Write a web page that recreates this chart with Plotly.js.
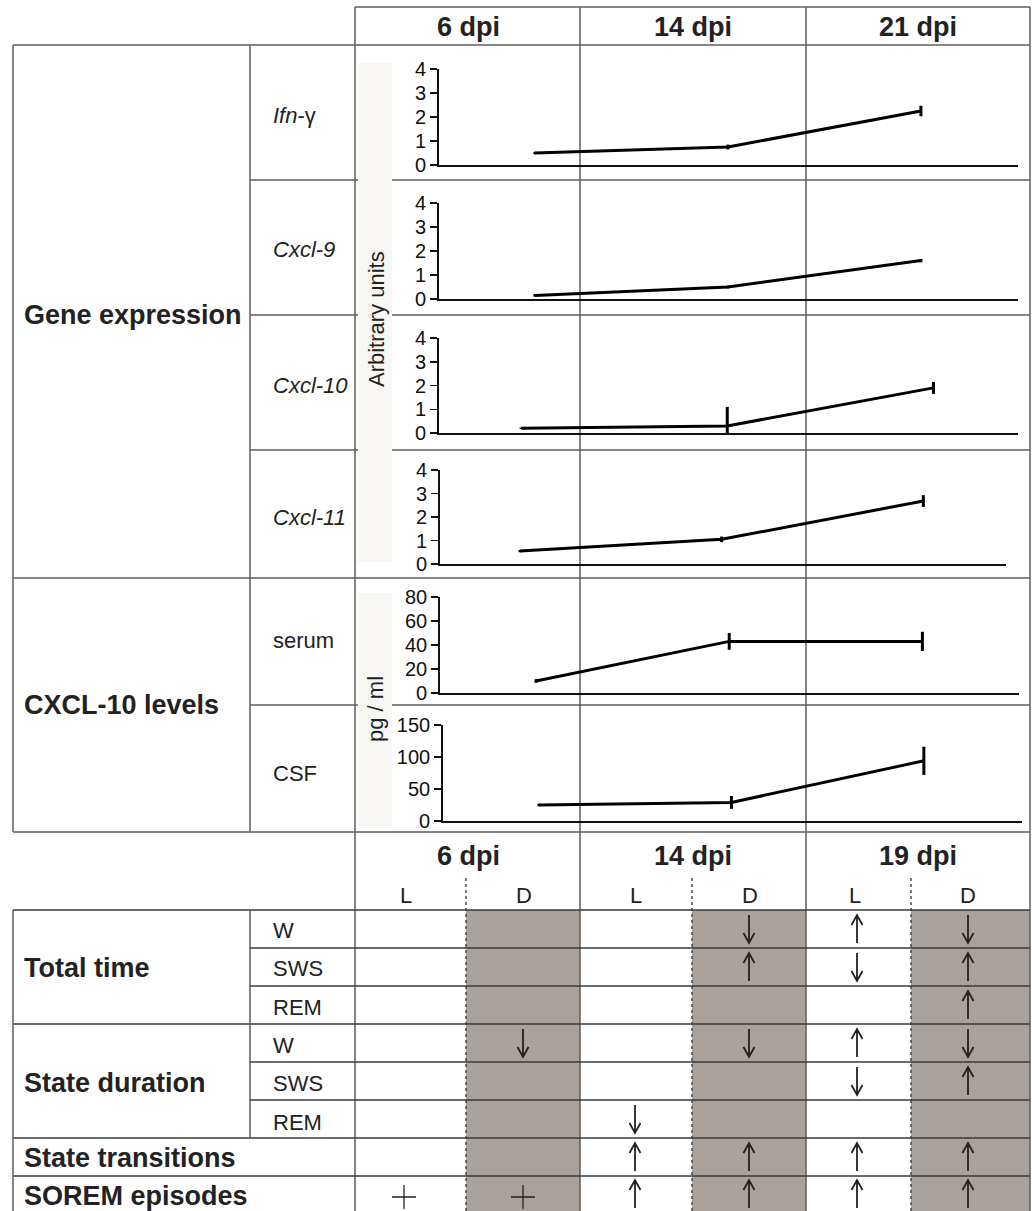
<!DOCTYPE html>
<html>
<head>
<meta charset="utf-8">
<script src="https://cdn.plot.ly/plotly-3.0.1.min.js"></script>
<style>html,body{margin:0;padding:0;background:#fff;}#chart{width:1032px;height:1211px;}</style>
</head>
<body>
<div id="chart"></div>
<script>
// ---------- DATA ----------
const timepoints = ['6 dpi', '14 dpi', '21 dpi'];
const xIdx = [0, 1, 2];

const ifnG = [0.5, 0.75, 2.25];
const ifnGErr = [0.05, 0.1, 0.22];
const cxcl9 = [0.15, 0.5, 1.6];
const cxcl9Err = [0.05, 0.06, 0.07];
const cxcl10 = [0.2, 0.3, 1.9];
const cxcl10ErrPlus = [0.03, 0.8, 0.25];
const cxcl10ErrMinus = [0.03, 0.3, 0.25];
const cxcl11 = [0.55, 1.05, 2.68];
const cxcl11Err = [0.05, 0.12, 0.25];
const serum = [10, 43, 43];
const serumErr = [1.5, 7, 8];
const csf = [25, 29, 94];
const csfErr = [2, 10, 22];

const geneLabels = ['<i>Ifn</i>-γ', '<i>Cxcl-9</i>', '<i>Cxcl-10</i>', '<i>Cxcl-11</i>', 'serum', 'CSF'];
const sleepTimepoints = ['6 dpi', '14 dpi', '19 dpi'];
const phaseLabels = ['L', 'D', 'L', 'D', 'L', 'D'];
const groupLabels = ['Total time', 'State duration', 'State transitions', 'SOREM episodes'];
const subLabels = ['W', 'SWS', 'REM', 'W', 'SWS', 'REM'];

// sleep table marks: rows = TT W, TT SWS, TT REM, SD W, SD SWS, SD REM, transitions, SOREM
const mark6L  = ['', '', '', '', '', '', '', '+'];
const mark6D  = ['', '', '', 'down', '', '', '', '+'];
const mark14L = ['', '', '', '', '', 'down', 'up', 'up'];
const mark14D = ['down', 'up', '', 'down', '', '', 'up', 'up'];
const mark19L = ['up', 'down', '', 'up', 'down', '', 'up', 'up'];
const mark19D = ['down', 'up', 'up', 'down', 'up', '', 'up', 'up'];

// ---------- LAYOUT HELPERS ----------
const W = 1032, H = 1211;
const X = p => p / W;
const Y = p => 1 - p / H;
const FONT = 'Liberation Sans, Arial, sans-serif';
const GRID = '#5e5e5e';
const shapes = [];
const annotations = [];

function hline(x0, x1, y, color, width, dash, layer) {
  shapes.push({type: 'line', xref: 'paper', yref: 'paper', x0: X(x0), x1: X(x1), y0: Y(y), y1: Y(y),
    line: {color: color || GRID, width: width || 1.5, dash: dash || 'solid'}, layer: layer || 'below'});
}
function vline(x, y0, y1, color, width, dash, layer) {
  shapes.push({type: 'line', xref: 'paper', yref: 'paper', x0: X(x), x1: X(x), y0: Y(y0), y1: Y(y1),
    line: {color: color || GRID, width: width || 1.5, dash: dash || 'solid'}, layer: layer || 'below'});
}
function rect(x0, y0, x1, y1, fill, layer) {
  shapes.push({type: 'rect', xref: 'paper', yref: 'paper', x0: X(x0), x1: X(x1), y0: Y(y0), y1: Y(y1),
    fillcolor: fill, line: {width: 0}, layer: layer || 'below'});
}
function text(t, x, y, size, opts) {
  opts = opts || {};
  annotations.push(Object.assign({text: t, xref: 'paper', yref: 'paper', x: X(x), y: Y(y), showarrow: false,
    xanchor: opts.xanchor || 'center', yanchor: 'middle',
    font: {family: FONT, size: size, color: opts.color || '#222', weight: opts.bold ? 'bold' : 'normal'}},
    opts.textangle ? {textangle: opts.textangle} : {}));
}

// ---------- TABLE: gray fills for dark phases ----------
const darkCols = [[466, 580], [692, 806], [911, 1030]];
darkCols.forEach(c => rect(c[0], 910, c[1], 1214, '#a8a19c'));

// ---------- TOP TABLE LINES ----------
hline(355, 1030, 7);
hline(13, 1030, 45);
[180, 315, 450, 705].forEach(y => hline(250, 1030, y));
hline(13, 1030, 578);
hline(13, 1030, 832);
vline(13, 45, 832);
vline(250, 45, 832);
vline(355, 7, 1214);
vline(580, 7, 1214);
vline(806, 7, 1214);
vline(1030, 7, 1214);

// ---------- BOTTOM TABLE LINES ----------
[910, 1024, 1138, 1176].forEach(y => hline(13, 1030, y, '#3a3a3a'));
[948, 986, 1062, 1100].forEach(y => hline(250, 1030, y, '#3a3a3a'));
vline(13, 910, 1214);
vline(250, 910, 1138);
[466, 692, 911].forEach(x => vline(x, 878, 1214, '#333', 1.3, 'dot'));

// light bands behind axis titles (cover the row lines)
rect(358, 63, 392, 562, '#f7f6f3');
rect(358, 593, 392, 826, '#f7f6f3');

// ---------- TEXT ----------
const headCx = [468, 693, 918];
timepoints.forEach((t, i) => text(t, headCx[i], 27, 27, {bold: true}));
sleepTimepoints.forEach((t, i) => text(t, headCx[i], 856, 27, {bold: true}));
const phaseCx = [406, 524, 636, 750, 855, 968];
phaseLabels.forEach((t, i) => text(t, phaseCx[i], 895, 22));

text('Gene expression', 22, 315, 27, {bold: true, xanchor: 'left'});
text('CXCL-10 levels', 22, 705, 27, {bold: true, xanchor: 'left'});
const geneY = [115, 250, 385, 517, 640, 773];
geneLabels.forEach((t, i) => text(t, 271, geneY[i], 22, {xanchor: 'left'}));
text('Arbitrary units', 376, 319, 22, {textangle: -90});
text('pg / ml', 375, 709, 22, {textangle: -90});

const groupY = [968, 1083, 1158, 1196];
groupLabels.forEach((t, i) => text(t, 22, groupY[i], 27, {bold: true, xanchor: 'left'}));
const subY = [930, 968, 1007, 1045, 1083, 1122];
subLabels.forEach((t, i) => text(t, 271, subY[i], 22, {xanchor: 'left'}));

// ---------- ARROWS / MARKS ----------
const rowBounds = [910, 948, 986, 1024, 1062, 1100, 1138, 1176, 1212];
const markCols = [mark6L, mark6D, mark14L, mark14D, mark19L, mark19D];
const markCx = [404, 523, 635, 749, 857, 968];
function P(x, y) { return X(x) + ',' + Y(y); }
markCols.forEach((col, ci) => {
  col.forEach((m, ri) => {
    if (!m) return;
    const cx = markCx[ci];
    const cy = (rowBounds[ri] + rowBounds[ri + 1]) / 2;
    let path;
    if (m === 'up') {
      const tip = cy - 14, tail = cy + 14;
      path = 'M' + P(cx, tail) + ' L' + P(cx, tip) + ' M' + P(cx - 5.5, tip + 10) + ' L' + P(cx, tip) + ' L' + P(cx + 5.5, tip + 10);
    } else if (m === 'down') {
      const tip = cy + 14, tail = cy - 14;
      path = 'M' + P(cx, tail) + ' L' + P(cx, tip) + ' M' + P(cx - 5.5, tip - 10) + ' L' + P(cx, tip) + ' L' + P(cx + 5.5, tip - 10);
    } else {
      path = 'M' + P(cx - 12, cy + 3) + ' L' + P(cx + 12, cy + 3) + ' M' + P(cx, cy - 9) + ' L' + P(cx, cy + 15);
    }
    shapes.push({type: 'path', xref: 'paper', yref: 'paper', path: path,
      line: {color: '#222', width: m === '+' ? 1.3 : 1.8}, layer: 'above'});
  });
});

// ---------- PLOT PANELS ----------
// [values, errPlus, errMinus, yTop(px), yBottom(px), xStart(px), xEnd(px), range, dtick, xrange]
const panels = [
  [ifnG, ifnGErr, ifnGErr, 69, 165, 439, 1018, [0, 4], 1, [-0.497, 2.503]],
  [cxcl9, cxcl9Err, cxcl9Err, 203, 299, 439, 1018, [0, 4], 1, [-0.497, 2.503]],
  [cxcl10, cxcl10ErrPlus, cxcl10ErrMinus, 338, 433, 439, 1018, [0, 4], 1, [-0.398, 2.41]],
  [cxcl11, cxcl11Err, cxcl11Err, 470, 564, 440, 1006, [0, 4], 1, [-0.397, 2.41]],
  [serum, serumErr, serumErr, 597, 693, 440, 1019, [0, 80], 20, [-0.497, 2.5]],
  [csf, csfErr, csfErr, 725, 821, 443, 1022, [0, 150], 50, [-0.499, 2.51]]
];

const data = [];
const layout = {
  width: W, height: H, autosize: false,
  margin: {l: 0, r: 0, t: 0, b: 0, pad: 0},
  paper_bgcolor: '#ffffff', plot_bgcolor: 'rgba(0,0,0,0)',
  showlegend: false,
  font: {family: FONT, color: '#111'},
  shapes: shapes, annotations: annotations
};

panels.forEach((p, i) => {
  const n = i === 0 ? '' : String(i + 1);
  data.push({
    type: 'scatter', mode: 'lines', x: xIdx, y: p[0],
    xaxis: 'x' + n, yaxis: 'y' + n,
    line: {color: '#000', width: 3},
    error_y: {type: 'data', symmetric: false, array: p[1], arrayminus: p[2], color: '#000', thickness: 3, width: 0},
    hoverinfo: 'skip', cliponaxis: false
  });
  layout['xaxis' + n] = {
    domain: [X(p[5]), X(p[6])], anchor: 'y' + n, range: p[9],
    showline: true, linecolor: '#111', linewidth: 1.8, showgrid: false, zeroline: false,
    showticklabels: false, ticks: '', fixedrange: true
  };
  layout['yaxis' + n] = {
    domain: [Y(p[4]), Y(p[3])], anchor: 'x' + n, range: p[7], dtick: p[8], tick0: 0,
    showline: true, linecolor: '#111', linewidth: 1.8, showgrid: false, zeroline: false,
    ticks: 'outside', ticklen: 7, tickwidth: 1.5, tickcolor: '#111',
    tickfont: {family: FONT, size: 20, color: '#111'}, fixedrange: true
  };
});

Plotly.newPlot('chart', data, layout, {displayModeBar: false, staticPlot: true});
</script>
</body>
</html>
